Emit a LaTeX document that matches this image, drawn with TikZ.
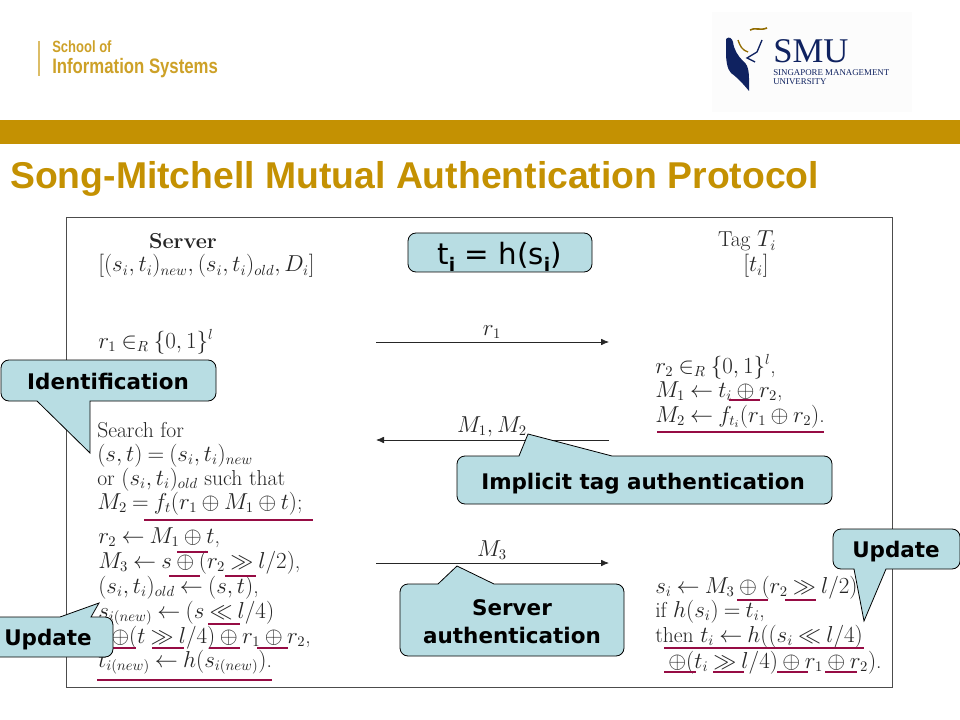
\documentclass[tikz,border=0pt]{standalone}
\usepackage{amsmath}
\usepackage{amssymb}
\usepackage{fontspec}
\setmainfont{Latin Modern Roman}
\newfontfamily\titlefont{Liberation Sans}
\newfontfamily\narrowfont[FakeStretch=0.8]{Liberation Sans}
\newfontfamily\boxfont{DejaVu Sans}
\newfontfamily\logofont{Liberation Serif}
\definecolor{smugold}{HTML}{C49102}
\definecolor{smunavy}{HTML}{0F2260}
\definecolor{boxblue}{HTML}{B8DDE3}
\definecolor{markred}{HTML}{960C44}
\newcommand\tightmath{\thickmuskip=4mu\relax\medmuskip=3.5mu\relax}
\usetikzlibrary{arrows.meta}
\tikzset{
    x=0.75pt,
    y=-0.75pt,
    mathline/.style = {
        anchor=base west,
        inner sep=0pt,
        text=black!85,
        font=\fontsize{16.2}{19}\selectfont\tightmath,
        },
    msg/.style = {
        anchor=base,
        inner sep=0pt,
        text=black!85,
        font=\fontsize{16.2}{19}\selectfont,
        },
    callout/.style = {
        draw=black,
        fill = boxblue,
        line width=0.6pt,
        rounded corners=6,
        },
    calltext/.style = {
        anchor=base,
        inner sep=0pt,
        font=\boxfont\bfseries\fontsize{16.1}{19}\selectfont,
        },
    wire/.style = {
        draw=black!85,
        line width=0.6pt,
        -{Latex[length=6pt,width=5pt]},
        },
    underline/.style = {
        draw=markred,
        line width=2.2pt,
        },
}
\begin{document}
\begin{tikzpicture}
            \useasboundingbox (0,0) rectangle (960,720);

            % header
            \fill[smugold] (0,120) rectangle (960,144);
            \fill[black!1] (712,12) rectangle (912,112);
            \draw[smugold!60, line width=0.9pt] (39,41) -- (39,76);
            \node[anchor=base west, inner sep=0pt, text=smugold!85, font=\narrowfont\bfseries\fontsize{12.2}{14}\selectfont] (school) at (52,53) {School of};
            \node[anchor=base west, inner sep=0pt, text=smugold!85, font=\narrowfont\bfseries\fontsize{15.7}{18}\selectfont] (infosys) at (52,74) {Information Systems};
            \node[anchor=base west, inner sep=0pt, text=smugold, font=\titlefont\bfseries\fontsize{28}{32}\selectfont] (title) at (10,189) {Song-Mitchell Mutual Authentication Protocol};

            % logo
            \fill[smunavy] (726,39) .. controls (729,36) and (732,38) .. (733,42) .. controls (734,50) and (738,56) .. (743,61) .. controls (750,66) and (749,76) .. (749,91) .. controls (745,86) and (738,78) .. (731,73) .. controls (727,69) and (726,60) .. (726,52) -- cycle;
            \draw[smugold!75!black, line width=1.2pt] (750,30) .. controls (755,27) and (760,31) .. (767,28);
            \draw[smugold!75!black, line width=1pt] (738,40) .. controls (740,46) and (742,50) .. (748,52);
            \draw[smunavy, line width=1pt] (762,40) -- (757,52) -- (747,58) -- (755,62);
            \node[anchor=base west, inner sep=0pt, text=smunavy, font=\logofont\fontsize{26}{30}\selectfont] (smu) at (773,63) {SMU};
            \node[anchor=base west, inner sep=0pt, text=smunavy, font=\logofont\fontsize{6.65}{8}\selectfont] (smuline1) at (773,76) {SINGAPORE MANAGEMENT};
            \node[anchor=base west, inner sep=0pt, text=smunavy, font=\logofont\fontsize{6.65}{8}\selectfont] (smuline2) at (773,85) {UNIVERSITY};

            % frame
            \draw[fill=white, draw=black!70, line width=0.7pt] (66,217) rectangle (892,687);

            % server side
            \node[mathline, anchor=base] (server) at (183,249) {\textbf{Server}};
            \node[mathline] (sdata) at (98,272) {$[(s_i,t_i)_{new},(s_i,t_i)_{old},D_i]$};
            \node[mathline] (srand) at (98,348) {$r_1\in_R\{0,1\}^l$};
            \node[mathline] (search1) at (97,437) {Search for};
            \node[mathline] (search2) at (97,461) {$(s,t)=(s_i,t_i)_{new}$};
            \node[mathline] (search3) at (97,485) {or $(s_i,t_i)_{old}$ such that};
            \node[mathline] (search4) at (97,509) {$M_2=f_t(r_1\oplus M_1\oplus t)$;};
            \node[mathline] (calc1) at (98,543) {$r_2\leftarrow M_1\oplus t$,};
            \node[mathline] (calc2) at (98,568) {$M_3\leftarrow s\oplus(r_2\gg l/2)$,};
            \node[mathline] (calc3) at (98,593) {$(s_i,t_i)_{old}\leftarrow(s,t)$,};
            \node[mathline] (calc4) at (98,618) {$s_{i(new)}\leftarrow(s\ll l/4)$};
            \node[mathline] (calc5) at (111,643) {$\oplus(t\gg l/4)\oplus r_1\oplus r_2$,};
            \node[mathline] (calc6) at (98,667) {$t_{i(new)}\leftarrow h(s_{i(new)})$.};

            % tag side
            \node[mathline, anchor=base] (tag) at (747,247) {Tag $T_i$};
            \node[mathline, anchor=base] (tdata) at (756,272) {$[t_i]$};
            \node[mathline] (tag1) at (655,373) {$r_2\in_R\{0,1\}^l$,};
            \node[mathline] (tag2) at (655,397) {$M_1\leftarrow t_i\oplus r_2$,};
            \node[mathline] (tag3) at (655,422) {$M_2\leftarrow f_{t_i}(r_1\oplus r_2)$.};
            \node[mathline] (tag4) at (655,593) {$s_i\leftarrow M_3\oplus(r_2\gg l/2)$};
            \node[mathline] (tag5) at (655,617) {if $h(s_i)=t_i$,};
            \node[mathline] (tag6) at (655,642) {then $t_i\leftarrow h((s_i\ll l/4)$};
            \node[mathline] (tag7) at (668,668) {$\oplus(t_i\gg l/4)\oplus r_1\oplus r_2)$.};

            % messages
            \coordinate (a1) at (376,342);
            \coordinate (b1) at (609,342);
            \coordinate (a2) at (376,440);
            \coordinate (b2) at (609,440);
            \coordinate (a3) at (376,563);
            \coordinate (b3) at (609,563);
            \path[wire] (a1) -- (b1);
            \path[wire] (b2) -- (a2);
            \path[wire] (a3) -- (b3);
            \node[msg] (r1) at (492,335) {$r_1$};
            \node[msg] (m12) at (492,432) {$M_1,M_2$};
            \node[msg] (m3) at (492,556) {$M_3$};

            % underlined steps
            \foreach \xa/\xb/\yy in {144/313/520, 177/208/552, 169/200/576, 225/256/576, 208/240/624,
                104/136/648, 152/184/648, 209/240/648, 257/288/648, 97/272/680,
                729/760/400, 657/824/432, 737/768/600, 785/816/600, 664/864/648,
                664/696/672, 713/744/672, 777/808/672, 825/857/672}
                \draw[underline] (\xa,\yy) -- (\xb,\yy);

            % callouts
            \draw[callout] (408,233) rectangle (592,272);
            \node[anchor=base, inner sep=0pt, font=\boxfont\fontsize{22}{25}\selectfont] (hash) at (499.5,265) {t\raisebox{-5pt}{\fontsize{14}{16}\selectfont\bfseries i} = h(s\raisebox{-5pt}{\fontsize{14}{16}\selectfont\bfseries i})};

            \draw[callout] (1,380) -- (1,360) -- (216,360) -- (216,401) [sharp corners] -- (90,401) -- (90,453) -- (37,401) [rounded corners=6] -- (1,401) -- cycle;
            \node[calltext] (identify) at (108,389) {Identification};

            \draw[callout] (457,480) -- (457,456) [sharp corners] -- (519,456) -- (528,434) -- (612,456) [rounded corners=6] -- (832,456) -- (832,504) -- (457,504) -- cycle;
            \node[calltext] (implicit) at (643,489) {Implicit tag authentication};

            \draw[callout] (400,620) -- (400,584) [sharp corners] -- (438,584) -- (457,566) -- (494,584) [rounded corners=6] -- (624,584) -- (624,656) -- (400,656) -- cycle;
            \node[calltext] (serverauth1) at (512,615) {Server};
            \node[calltext] (serverauth2) at (512,643) {authentication};

            \draw[callout] (833,549) -- (833,529) -- (960,529) -- (960,569) [sharp corners] -- (886,569) -- (864,621) -- (854,569) [rounded corners=6] -- (833,569) -- cycle;
            \node[calltext] (update1) at (896,557) {Update};

            \draw[callout] (-14,637) -- (-14,617) [sharp corners] -- (60,617) -- (99,603) -- (91,617) [rounded corners=6] -- (113,617) -- (113,657) -- (-14,657) -- cycle;
            \node[calltext] (update2) at (48,645) {Update};
        \end{tikzpicture}
\end{document}
